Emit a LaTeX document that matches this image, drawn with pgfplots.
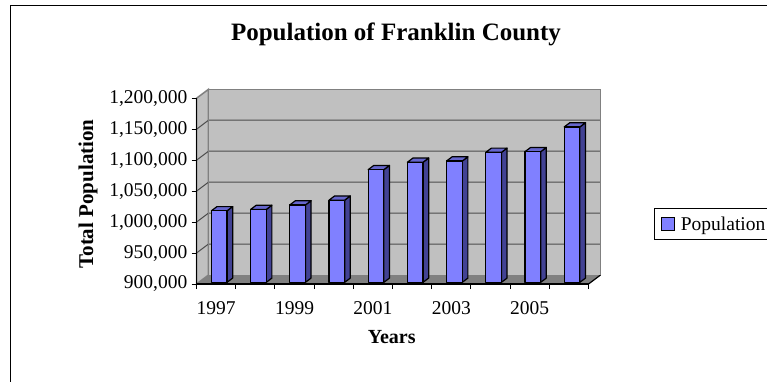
\documentclass[border=0pt]{standalone}
\usepackage{fontspec}
\setmainfont{Liberation Serif}
\usepackage{pgfplots}
\usepackage{pgfplotstable}
\pgfplotsset{compat=1.18}

\definecolor{barfront}{RGB}{128,128,255}
\definecolor{bartop}{RGB}{102,102,204}
\definecolor{barside}{RGB}{66,66,148}
\definecolor{wallgray}{RGB}{192,192,192}
\definecolor{floorgray}{RGB}{128,128,128}
\definecolor{edgegray}{RGB}{128,128,128}

% Franklin County population, in thousands
\pgfplotstableread{
year thousands
1997 1015.5
1998 1017.7
1999 1025.0
2000 1032.7
2001 1082.0
2002 1094.0
2003 1096.0
2004 1110.0
2005 1111.0
2006 1151.0
}\poptable

% bar geometry in pt: half width of the front face, depth offset, y unit
\def\halfw{7.85}
\def\depx{5.6}
\def\depy{4.2}
\def\yu{0.619}

\pgfdeclareplotmark{nothing}{}

\begin{document}
\begin{tikzpicture}[x=1pt,y=1pt]
\path[use as bounding box] (0,0) rectangle (767,381);
\draw[line width=1.5pt] (10.5,-10) -- (10.5,375.5) -- (780,375.5);
\begin{axis}[
  at={(196.5pt,97pt)}, anchor=south west,
  x=39.2pt, y=0.619pt,
  xmin=-0.5, xmax=9.5, ymin=900, ymax=1200,
  clip=false, axis on top,
  axis x line=bottom, axis y line=left,
  axis line style={-, line width=1.2pt, black},
  tick align=outside, major tick length=5pt,
  tick style={black, line width=1pt},
  ytick={900,950,...,1200},
  yticklabel={\pgfmathprintnumber{\tick},000},
  xtick={-0.5,0.5,...,9.5},
  xticklabels={,,,,,,,,,,},
  extra x ticks={0,2,4,6,8},
  extra x tick labels={1997,1999,2001,2003,2005},
  extra x tick style={major tick length=0pt},
  tick label style={font=\fontsize{19.5}{23}\selectfont, inner sep=0pt},
  yticklabel style={xshift=-4pt},
  xticklabel style={yshift=-17pt},
  legend style={at={(1.168,0.4077)}, anchor=north west, draw=black,
    line width=1pt, font=\fontsize{19.5}{23}\selectfont,
    inner xsep=6pt, inner ysep=6pt},
  legend cell align=left,
  legend image code/.code={\draw[fill=barfront, line width=1pt] (0pt,-6.5pt) rectangle (13pt,6.5pt);},
  /pgf/number format/.cd, 1000 sep={,}, assume math mode=true,
]
% floor
\fill[floorgray] (-0.5,900) -- (9.5,900) -- (9.806,914.54) -- (-0.194,914.54) -- cycle;
\draw[black, line width=1.2pt] (9.5,900) -- (9.806,914.54);
% left wall
\filldraw[fill=wallgray, draw=edgegray, line width=1.5pt] (-0.5,900) -- (-0.194,914.54) -- (-0.194,1214.54) -- (-0.5,1200) -- cycle;
% back wall
\fill[wallgray] (-0.194,914.54) rectangle (9.806,1214.54);
% gridlines on the walls
\draw[black!70, line width=1pt]
  (-0.194,964.54) -- (9.806,964.54)
  (-0.194,1014.54) -- (9.806,1014.54)
  (-0.194,1064.54) -- (9.806,1064.54)
  (-0.194,1114.54) -- (9.806,1114.54)
  (-0.194,1164.54) -- (9.806,1164.54)
  (-0.5,950) -- (-0.194,964.54)
  (-0.5,1000) -- (-0.194,1014.54)
  (-0.5,1050) -- (-0.194,1064.54)
  (-0.5,1100) -- (-0.194,1114.54)
  (-0.5,1150) -- (-0.194,1164.54);
\draw[edgegray, line width=1.5pt] (-0.194,914.54) -- (-0.194,1214.54) -- (9.806,1214.54) -- (9.806,914.54);
% 3D bars
\addplot[scatter, only marks, mark=nothing,
  visualization depends on={\thisrow{thousands} \as \pop},
  scatter/@pre marker code/.code={%
    \pgfmathsetmacro\barh{(\pop-900)*\yu}%
    \pgfsetlinewidth{1.2pt}\pgfsetroundjoin\pgfsetstrokecolor{black}%
    \pgfpathmoveto{\pgfpoint{\halfw pt}{0pt}}%
    \pgfpathlineto{\pgfpoint{\halfw pt+\depx pt}{\depy pt}}%
    \pgfpathlineto{\pgfpoint{\halfw pt+\depx pt}{\depy pt-\barh pt}}%
    \pgfpathlineto{\pgfpoint{\halfw pt}{-\barh pt}}%
    \pgfpathclose
    \pgfsetfillcolor{barside}\pgfusepath{fill,stroke}%
    \pgfpathmoveto{\pgfpoint{-\halfw pt}{0pt}}%
    \pgfpathlineto{\pgfpoint{\halfw pt}{0pt}}%
    \pgfpathlineto{\pgfpoint{\halfw pt+\depx pt}{\depy pt}}%
    \pgfpathlineto{\pgfpoint{-\halfw pt+\depx pt}{\depy pt}}%
    \pgfpathclose
    \pgfsetfillcolor{bartop}\pgfusepath{fill,stroke}%
    \pgfpathrectangle{\pgfpoint{-\halfw pt}{-\barh pt}}{\pgfpoint{2*\halfw pt}{\barh pt}}%
    \pgfsetfillcolor{barfront}\pgfusepath{fill,stroke}%
  },
  scatter/@post marker code/.code={}]
  table[x expr=\thisrow{year}-1997+0.08, y expr=\thisrow{thousands}+2.75]{\poptable};
\addlegendentry{\hspace*{4pt}Population}
\end{axis}
\node[anchor=base, font=\bfseries\fontsize{25}{29}\selectfont] at (396,340) {Population of Franklin County};
\node[anchor=base, font=\bfseries\fontsize{20}{24}\selectfont] at (391.7,37.7) {Years};
\node[anchor=base, rotate=90, font=\bfseries\fontsize{21}{25}\selectfont] at (93,187) {Total Population};
\end{tikzpicture}
\end{document}
